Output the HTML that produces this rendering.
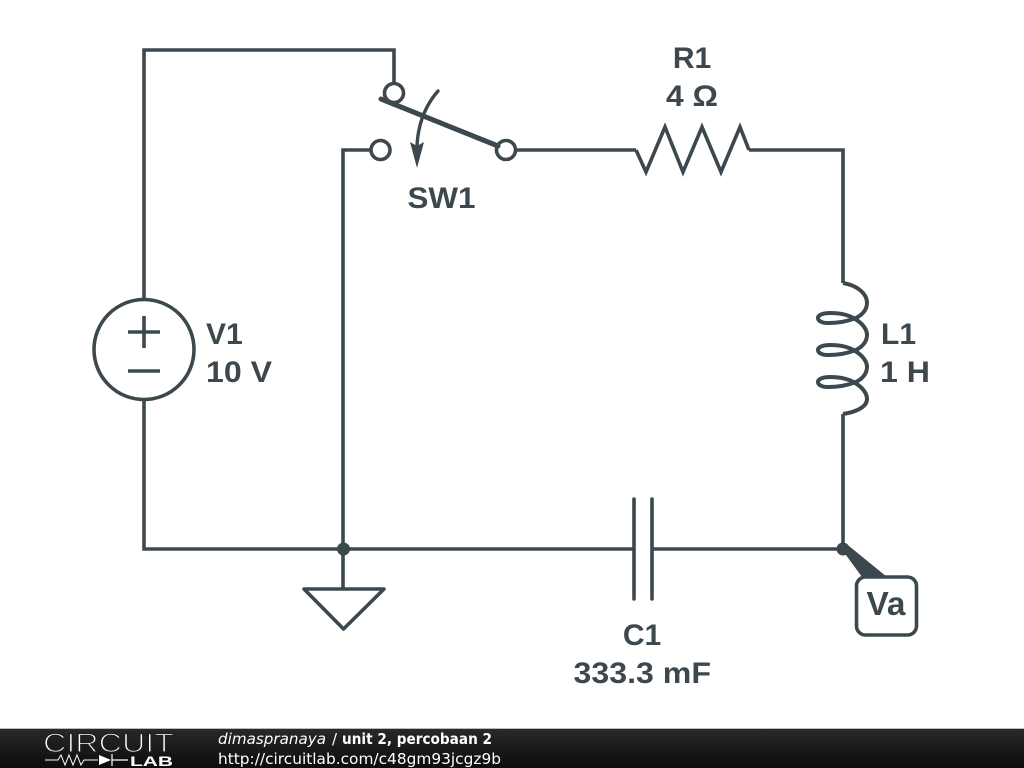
<!DOCTYPE html>
<html>
<head>
<meta charset="utf-8">
<style>
html,body{margin:0;padding:0;background:#fff;width:1024px;height:768px;overflow:hidden}
svg{display:block}
.l{font-family:"Liberation Sans",sans-serif;font-weight:700;font-size:30px;fill:#3d484e}
.f{font-family:"DejaVu Sans",sans-serif;font-size:15px;fill:#fff}
</style>
</head>
<body>
<svg width="1024" height="768" viewBox="0 0 1024 768" xmlns="http://www.w3.org/2000/svg">
<defs>
<linearGradient id="g" x1="0" y1="0" x2="0" y2="1">
<stop offset="0" stop-color="#292929"/><stop offset="0.5" stop-color="#1a1a1a"/><stop offset="1" stop-color="#0c0c0c"/>
</linearGradient>
</defs>
<g fill="none" stroke="#3d484e" stroke-width="3.6">
<!-- wires -->
<path d="M144 299V50H394V84"/>
<path d="M144 400V549H634"/>
<path d="M652 549H843V414"/>
<path d="M843 283V150H749"/>
<path d="M636 150H516"/>
<path d="M371 150H343V588"/>
<!-- resistor -->
<path d="M636 150L646 172L665 127L683 172L702 127L721 172L740 127L749 150" stroke-linejoin="miter"/>
<!-- inductor -->
<path stroke-width="4" d="M843 283C856 285 867 293 867 303C867 311 860 317 853 319C845 322 835 323 828 323C822 323 818 321 818 318C818 315 823 313 830 313C840 313 849 315 855 319C862 323 867 329 867 335C867 343 860 349 853 351C845 354 835 355 828 355C822 355 818 353 818 350C818 347 823 345 830 345C840 345 849 347 855 351C862 355 867 361 867 367C867 375 860 381 853 383C845 386 835 387 828 387C822 387 818 385 818 382C818 379 823 377 830 377C840 377 849 379 855 383C862 387 867 393 867 399C867 407 856 412 843 414"/>
<!-- capacitor -->
<path d="M634 499V599M652 499V599" stroke-linecap="round"/>
<!-- ground -->
<path d="M304 589H384L343.500 629Z" stroke-linejoin="round"/>
<!-- source -->
<circle cx="144" cy="349.500" r="50"/>
<path d="M128 332H160M144 316V348M128 371H160"/>
<!-- switch -->
<circle cx="394" cy="93" r="9.500"/>
<circle cx="380.500" cy="150" r="9.500"/>
<circle cx="506" cy="150" r="9.500"/>
<path d="M381 99L498 146" stroke-width="5" stroke-linecap="round"/>
<path d="M438 91C425 106 418 124 417 146" stroke-width="3.400" stroke-linecap="round"/>
<!-- probe box -->
<rect x="856.500" y="577" width="60" height="58" rx="9"/>
</g>
<g fill="#3d484e">
<path d="M410 142L417 146L424 142L417 168Z"/>
<circle cx="343.500" cy="549" r="6.500"/>
<circle cx="843" cy="549" r="6.500"/>
<path d="M843 551L849 546L887 577L862 577Z"/>
</g>
<text class="l" x="692" y="68" text-anchor="middle">R1</text>
<text class="l" x="666" y="106" textLength="52" lengthAdjust="spacingAndGlyphs">4 Ω</text>
<text class="l" x="407.500" y="208" textLength="68" lengthAdjust="spacingAndGlyphs">SW1</text>
<text class="l" x="206" y="344">V1</text>
<text class="l" x="206" y="382" textLength="66" lengthAdjust="spacingAndGlyphs">10 V</text>
<text class="l" x="881" y="344">L1</text>
<text class="l" x="880" y="382" textLength="50" lengthAdjust="spacingAndGlyphs">1 H</text>
<text class="l" x="642" y="645" text-anchor="middle">C1</text>
<text class="l" x="573.500" y="683" textLength="137.500" lengthAdjust="spacingAndGlyphs">333.3 mF</text>
<text class="l" x="866.500" y="615" style="font-size:33px" textLength="39" lengthAdjust="spacingAndGlyphs">Va</text>
<!-- footer -->
<rect x="0" y="729" width="1024" height="39" fill="url(#g)"/>
<rect x="0" y="728" width="1024" height="1" fill="#bbb"/>
<text x="43" y="752" font-family="'Liberation Sans',sans-serif" font-size="27" fill="#fff" stroke="#1f1f1f" stroke-width="1.300" textLength="131" lengthAdjust="spacingAndGlyphs">CIRCUIT</text>
<text x="130" y="766" font-family="'Liberation Sans',sans-serif" font-weight="700" font-size="14" fill="#fff" textLength="43" lengthAdjust="spacingAndGlyphs">LAB</text>
<path d="M45 760H58L61 755L65 765L69 755L73 765L77 755L81 765L84 760H98" fill="none" stroke="#fff" stroke-width="1"/>
<path d="M99 755L111 760L99 765Z" fill="#fff"/>
<path d="M112 754V766M112 760H128" fill="none" stroke="#fff" stroke-width="1.200"/>
<text class="f" x="218" y="744" font-style="italic" textLength="108" lengthAdjust="spacingAndGlyphs">dimaspranaya</text>
<text class="f" x="332" y="744">/</text>
<text class="f" x="342" y="744" font-weight="700" textLength="150" lengthAdjust="spacingAndGlyphs">unit 2, percobaan 2</text>
<text class="f" x="218" y="764" textLength="283" lengthAdjust="spacingAndGlyphs">http://circuitlab.com/c48gm93jcgz9b</text>
</svg>
</body>
</html>
